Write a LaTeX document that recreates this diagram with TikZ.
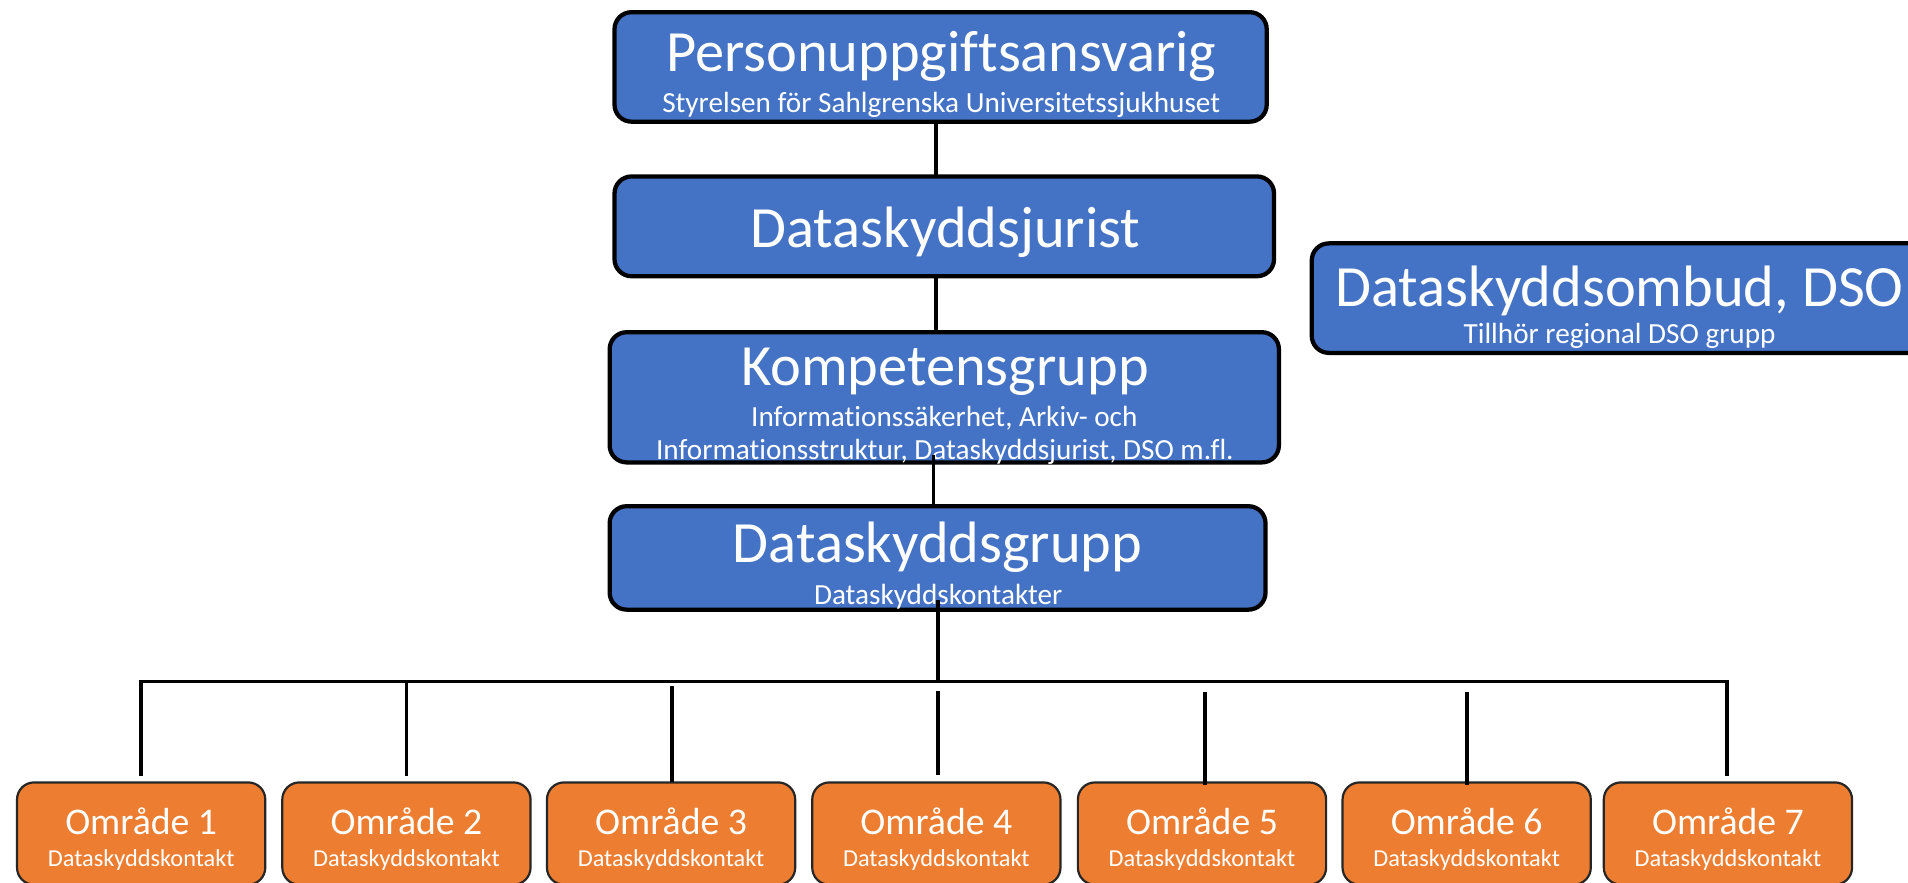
\documentclass[tikz,border=0pt]{standalone}
\usepackage{fontspec}
\setmainfont[Ligatures=NoCommon]{Carlito}
\usetikzlibrary{calc}
\definecolor{boxblue}{HTML}{4472C4}
\definecolor{boxorange}{HTML}{ED7D31}
\begin{document}
\begin{tikzpicture}[x=1pt,y=-1pt,
 bluebox/.style={draw=black, line width=3.5pt, fill=boxblue, rounded corners=14pt, inner sep=0pt, outer sep=0pt},
 orangebox/.style={draw=black!85, line width=1.8pt, fill=boxorange, rounded corners=14pt, inner sep=0pt, outer sep=0pt, minimum width=204pt, minimum height=84pt},
 bigtxt/.style={text=white, font=\fontsize{48}{48}\selectfont, anchor=base, inner sep=0pt},
 smalltxt/.style={text=white, font=\fontsize{24}{24}\selectfont, anchor=base, inner sep=0pt},
 otitle/.style={text=white, font=\fontsize{31}{31}\selectfont, anchor=base, inner sep=0pt},
 osub/.style={text=white, font=\fontsize{20}{20}\selectfont, anchor=base, inner sep=0pt},
 conn/.style={draw=black, line width=3pt}]
\useasboundingbox (0,0) rectangle (1568,725);
\fill[white] (0,0) rectangle (1568,725);
\clip (0,0) rectangle (1568,725);

% blue boxes
\node[bluebox, minimum width=536pt, minimum height=90pt] (p) at (773,55) {};
\node[bluebox, minimum width=542pt, minimum height=82pt] (j) at (776,186) {};
\node[bluebox, minimum width=550pt, minimum height=107pt] (k) at (776,326.5) {};
\node[bluebox, minimum width=539pt, minimum height=85pt] (g) at (770.5,458.5) {};
\node[bluebox, minimum width=506pt, minimum height=90pt] (dso) at (1331,245) {};

% texts in blue boxes
\node[bigtxt] (pt) at (773.5,59) {Personuppgiftsansvarig};
\node[smalltxt] (ps) at (773.5,92.5) {Styrelsen för Sahlgrenska Universitetssjukhuset};
\node[bigtxt] (jt) at (777,203) {Dataskyddsjurist};
\node[bigtxt] (kt) at (776.5,316.5) {Kompetensgrupp};
\node[smalltxt] (ks1) at (776,350.5) {Informationssäkerhet, Arkiv- och};
\node[smalltxt] (ks2) at (776.5,377.5) {Informationsstruktur, Dataskyddsjurist, DSO m.fl.};
\node[bigtxt] (gt) at (770.5,462.5) {Dataskyddsgrupp};
\node[smalltxt] (gs) at (771,496.5) {Dataskyddskontakter};
\node[bigtxt] (dt) at (1331,252) {Dataskyddsombud, DSO};
\node[smalltxt] (ds) at (1331,282) {Tillhör regional DSO grupp};

% orange boxes
\foreach \i/\cx in {1/116,2/334,3/551.5,4/769.5,5/987.8,6/1205.3,7/1420}{
  \node[orangebox] (o\i) at (\cx,685) {};
  \node[otitle] (ot\i) at (\cx,686) {Område \i};
  \node[osub] (os\i) at (\cx,712) {Dataskyddskontakt};
}

% connector coordinates
\coordinate (xa) at (769,0);
\coordinate (xb) at (767,0);
\coordinate (xc) at (771,0);
\coordinate (bl) at (116,560);
\coordinate (br) at (1419.5,560);
\coordinate (d1) at (116,560);
\coordinate (d2) at (334,560);
\coordinate (d3) at (552,564);
\coordinate (d4) at (771,568);
\coordinate (d5) at (990.5,569);
\coordinate (d6) at (1205.5,569);
\coordinate (d7) at (1419.5,560);

% vertical chain
\draw[conn] (xa |- p.south) -- (xa |- j.north);
\draw[conn] (xa |- j.south) -- (xa |- k.north);
\draw[conn] ($(xb |- k.south)+(0,-6)$) -- (xb |- g.north);
\draw[conn] ($(xc |- g.south)+(0,-8)$) -- (xc |- bl);

% bus
\draw[conn, line cap=rect] (bl) -- (br);

% drops
\draw[conn] (d1) -- ($(d1 |- o1.north)+(0,-5)$);
\draw[conn] (d2) -- ($(d2 |- o2.north)+(0,-5)$);
\draw[conn] (d3) -- (d3 |- o3.north);
\draw[conn] (d4) -- ($(d4 |- o4.north)+(0,-6)$);
\draw[conn] (d5) -- ($(d5 |- o5.north)+(0,2)$);
\draw[conn] (d6) -- ($(d6 |- o6.north)+(0,2)$);
\draw[conn] (d7) -- ($(d7 |- o7.north)+(0,-5)$);
\end{tikzpicture}
\end{document}
